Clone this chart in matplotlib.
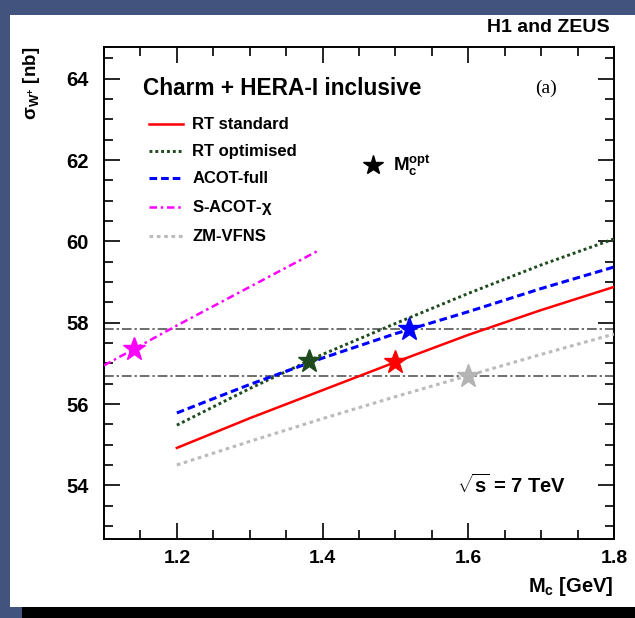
import matplotlib
matplotlib.use("Agg")
import matplotlib.pyplot as plt
from matplotlib.patches import Rectangle
from matplotlib.ticker import MultipleLocator, FixedLocator

plt.rcParams['font.family'] = ['Liberation Sans', 'DejaVu Sans']
plt.rcParams['font.weight'] = 'bold'
plt.rcParams['mathtext.fontset'] = 'custom'
plt.rcParams['mathtext.rm'] = 'Liberation Sans:bold'
plt.rcParams['mathtext.it'] = 'Liberation Sans:bold'
plt.rcParams['mathtext.bf'] = 'Liberation Sans:bold'

# ---- data ----
mc_grid = [1.2, 1.3, 1.4, 1.5, 1.6, 1.7, 1.8]
rt_standard = [54.92, 55.65, 56.34, 57.03, 57.70, 58.31, 58.88]
rt_optimised = [55.48, 56.38, 57.22, 57.98, 58.72, 59.42, 60.06]
acot_full = [55.78, 56.48, 57.13, 57.73, 58.27, 58.84, 59.37]
zm_vfns = [54.50, 55.08, 55.64, 56.18, 56.70, 57.22, 57.72]

sacot_mc = [1.1, 1.2, 1.3, 1.395]
sacot_chi = [56.95, 57.93, 58.88, 59.78]

opt_mc = [1.141, 1.381, 1.500, 1.519, 1.600]
opt_sigma = [57.35, 57.05, 57.03, 57.85, 56.70]
opt_colors = ['#ff00ff', '#1e4a1e', '#ff0000', '#0000ff', '#b4b4b4']

band = [57.85, 56.70]

legend_star = (1.469, 61.87)

labels = ['RT standard', 'RT optimised', 'ACOT-full', r'S-ACOT-$\chi$', 'ZM-VFNS']

# ---- figure ----
W, H = 635, 618
fig = plt.figure(figsize=(W / 100, H / 100), dpi=100)
fig.patch.set_facecolor('#42547e')
fig.add_artist(Rectangle((10 / W, 1 - 607 / H), 625 / W, (607 - 15) / H,
                         transform=fig.transFigure, facecolor='white',
                         edgecolor='none', zorder=0))
fig.add_artist(Rectangle((22 / W, 0), 613 / W, 11 / H,
                         transform=fig.transFigure, facecolor='black',
                         edgecolor='none', zorder=0))

ax = fig.add_axes([104 / W, 1 - 539 / H, 510 / W, 492 / H])
ax.set_facecolor('white')
ax.set_xlim(1.1, 1.8)
ax.set_ylim(52.68, 64.78)

for yb in band:
    ax.axhline(yb, color='#6e6e6e', lw=1.4, ls=(0, (5, 1.5, 1.2, 1.5)), zorder=1)

l1, = ax.plot(mc_grid, rt_standard, color='#ff0000', lw=1.8, zorder=3)
l2, = ax.plot(mc_grid, rt_optimised, color='#1e4a1e', lw=2.1, ls=(0, (1, 1)), zorder=3)
l3, = ax.plot(mc_grid, acot_full, color='#0000ff', lw=2.2, ls=(0, (2.5, 1.3)), zorder=3)
l4, = ax.plot(sacot_mc, sacot_chi, color='#ff00ff', lw=1.8, ls=(0, (3, 1.5, 1, 1.5)), zorder=3)
l5, = ax.plot(mc_grid, zm_vfns, color='#bbbbbb', lw=2.2, ls=(0, (1.2, 1.2)), zorder=3)

for x, y, c in zip(opt_mc, opt_sigma, opt_colors):
    ax.plot(x, y, marker='*', ms=17, color=c, mec=c, zorder=5, ls='none')

ax.plot(legend_star[0], legend_star[1], marker='*', ms=15, color='black', ls='none', zorder=5)
ax.text(1.497, 61.87, r'$\mathregular{M_c^{opt}}$', fontsize=13.5, va='center', ha='left')

leg = ax.legend([l1, l2, l3, l4, l5], labels, loc='upper left',
                bbox_to_anchor=(0.088, 0.857), frameon=False, fontsize=12,
                handlelength=2.05, handletextpad=0.55, labelspacing=0.72,
                borderpad=0, borderaxespad=0)
for t in leg.get_texts():
    t.set_fontweight('bold')

ax.text(0.077, 0.916, 'Charm + HERA-I inclusive', transform=ax.transAxes,
        fontsize=16.3, fontweight='bold', va='center', ha='left')
ax.text(0.867, 0.916, '(a)', transform=ax.transAxes, fontsize=14,
        family=['Liberation Serif', 'DejaVu Serif'], fontweight='normal',
        va='center', ha='center')
ax.text(0.692, 0.110, r'$\sqrt{\mathregular{s}}$ = 7 TeV', transform=ax.transAxes,
        fontsize=14.5, fontweight='bold', va='center', ha='left')

# ticks
ax.xaxis.set_major_locator(FixedLocator([1.2, 1.4, 1.6, 1.8]))
ax.xaxis.set_minor_locator(MultipleLocator(0.05))
ax.yaxis.set_major_locator(MultipleLocator(2))
ax.yaxis.set_minor_locator(MultipleLocator(0.5))
ax.set_xticklabels(['1.2', '1.4', '1.6', '1.8'])
ax.tick_params(which='both', direction='in', top=True, right=True, width=1.2)
ax.tick_params(which='major', length=11.5)
ax.tick_params(which='minor', length=6.5)
ax.tick_params(axis='x', which='major', labelsize=14, pad=8)
ax.tick_params(axis='y', which='major', labelsize=14.5, pad=11)
for lab in ax.get_xticklabels() + ax.get_yticklabels():
    lab.set_fontweight('bold')
for s in ax.spines.values():
    s.set_linewidth(1.4)

fig.text(610 / W, 1 - 28 / H, 'H1 and ZEUS', fontsize=14, fontweight='bold',
         ha='right', va='center')
fig.text(614 / W, 1 - 586 / H, r'M$_\mathregular{c}$ [GeV]', fontsize=14.5,
         fontweight='bold', ha='right', va='center')
fig.text(32 / W, 1 - 47 / H, r'$\mathregular{\sigma_{W^{+}}}$ [nb]', fontsize=13.5,
         fontweight='bold', rotation=90, ha='center', va='top')

fig.savefig('out.png', dpi=100, facecolor=fig.get_facecolor())
